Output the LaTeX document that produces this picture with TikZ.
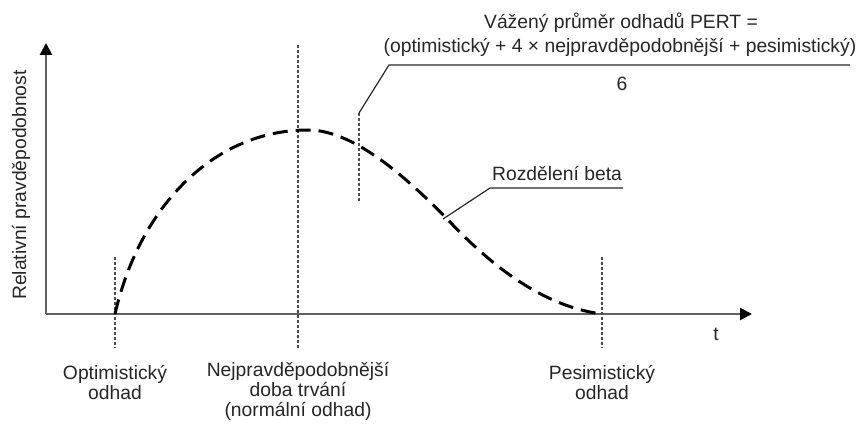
\documentclass[tikz,border=0pt]{standalone}
\usepackage{fontspec}
\setmainfont{Liberation Sans}
\usetikzlibrary{arrows.meta}
\begin{document}
\begin{tikzpicture}[x=1pt,y=-1pt,
  lbl/.style={font=\fontsize{19.3}{20}\selectfont, inner sep=0pt, align=center, text=black!85},
  axisline/.style={draw=black!62, line width=2.6pt},
  axtip/.style={-{Triangle[length=12pt,width=12pt,fill=black,color=black]}},
  guide/.style={draw=black!70, line width=1.1pt, dash pattern=on 3pt off 2pt},
  leader/.style={draw=black!85, line width=1.2pt},
  curvestyle/.style={draw=black, line width=3pt, dash pattern=on 15pt off 8pt}
]
\useasboundingbox (0,0) rectangle (861,425);
% axes
\coordinate (O) at (46,314);
\coordinate (ytip) at (46,43);
\coordinate (xtip) at (752,314);
\draw[axisline,axtip] (O) -- (ytip);
\draw[axisline,axtip] (O) -- (xtip);
% guides
\coordinate (g1t) at (115,257); \coordinate (g1b) at (115,348);
\coordinate (g2t) at (298,45);  \coordinate (g2b) at (298,348);
\coordinate (g3t) at (602,257); \coordinate (g3b) at (602,348);
\coordinate (g4t) at (359,113); \coordinate (g4b) at (359,203);
\draw[guide] (g1t) -- (g1b);
\draw[guide] (g2t) -- (g2b);
\draw[guide] (g3t) -- (g3b);
\draw[guide] (g4t) -- (g4b);
% curve
\coordinate (c0) at (115,314);
\coordinate (cpk) at (308,130);
\coordinate (cm) at (450,222);
\coordinate (c1) at (602,314);
\draw[curvestyle] (c0) .. controls (140,205) and (215,130) .. (cpk)
  .. controls (350,130) and (400,170) .. (cm)
  .. controls (505,280) and (555,308) .. (c1);
% formula
\node[lbl] (f1) at (621,23) {Vážený průměr odhadů PERT =};
\node[lbl] (f2) at (620,47) {(optimistický + 4 × nejpravděpodobnější + pesimistický)};
\node[lbl] (f3) at (622,84) {6};
\coordinate (fk) at (389,65);
\coordinate (fe) at (850,65);
\draw[leader] (g4t) -- (fk) -- (fe);
% beta label
\node[lbl] (beta) at (557,173) {Rozdělení beta};
\coordinate (bk) at (490,188);
\coordinate (be) at (623,188);
\coordinate (bc) at (443,219);
\draw[leader] (bc) -- (bk) -- (be);
% axis labels
\node[lbl] (t) at (716,334) {t};
\node[lbl, rotate=90] (ylab) at (21,185) {Relativní pravděpodobnost};
\node[lbl] (l1) at (115,382) {Optimistický\\odhad};
\node[lbl] (l2) at (298,391) {Nejpravděpodobnější\\doba trvání\\(normální odhad)};
\node[lbl] (l3) at (602,382) {Pesimistický\\odhad};
\end{tikzpicture}
\end{document}
